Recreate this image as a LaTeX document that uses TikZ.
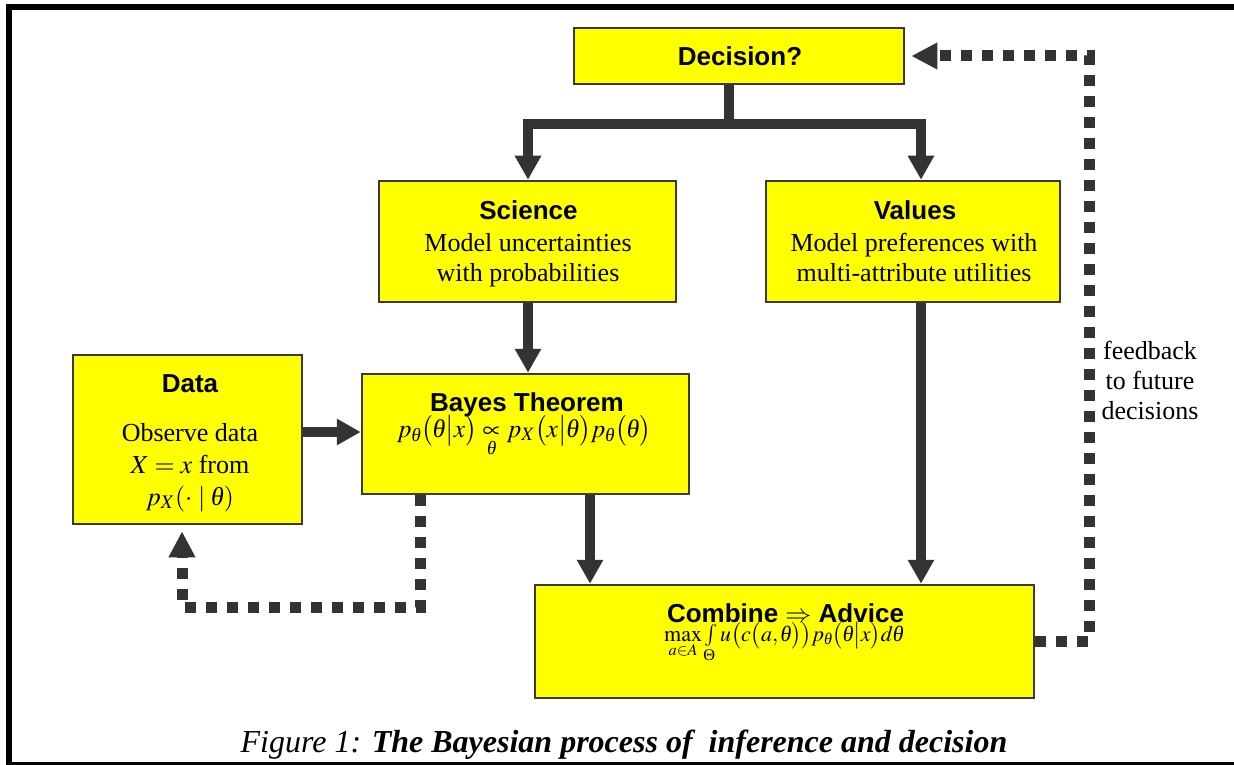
\documentclass[tikz,border=0pt]{standalone}
\usepackage{amsmath}
\usepackage{mathptmx}
\usepackage[no-math]{fontspec}
\setmainfont{Liberation Serif}
\newfontfamily\arial{Liberation Sans}
\usetikzlibrary{arrows.meta}
\newcommand{\thx}{\text{\itshape θ}}
\newcommand{\bigTh}{\text{\upshape Θ}}
\definecolor{ink}{HTML}{333333}
\definecolor{boxline}{HTML}{3A3A3A}
\definecolor{boxfill}{HTML}{FFFF00}
\tikzset{
  box/.style={draw=boxline, line width=2.5pt, fill=boxfill, inner sep=0pt, rectangle},
  ttl/.style={font=\arial\bfseries\fontsize{26}{30}\selectfont, anchor=base, inner sep=0pt},
  body/.style={font=\fontsize{26}{30}\selectfont, anchor=base, inner sep=0pt},
  flow/.style={draw=ink, line width=10pt, -{Triangle[length=24pt,width=25pt]}},
  plain/.style={draw=ink, line width=10pt},
  dotflow/.style={draw=ink, line width=11pt, dash pattern=on 11pt off 10pt, -{Triangle[length=26pt,width=25pt]}},
}
\begin{document}
\begin{tikzpicture}[x=1pt,y=-1pt]
\useasboundingbox (0,0) rectangle (1234,765);
% frame
\draw[line width=6pt] (9,765) -- (9,7) -- (1234,7);
\draw[line width=3.5pt] (6,763.5) -- (1234,763.5);
% boxes
\node[box, minimum width=330pt, minimum height=56pt] (dec) at (739,56) {};
\node[box, minimum width=297pt, minimum height=121pt] (sci) at (527.5,241.5) {};
\node[box, minimum width=294pt, minimum height=121pt] (val) at (913,241.5) {};
\node[box, minimum width=229pt, minimum height=169pt] (data) at (187.5,439.5) {};
\node[box, minimum width=327pt, minimum height=120pt] (bayes) at (525.5,434) {};
\node[box, minimum width=499pt, minimum height=113pt] (comb) at (784.5,641.5) {};
% texts
\node[ttl] (tdec) at (740,66) {Decision?};
\node[ttl] (tsci) at (528.5,219) {Science};
\node[body] (bsci1) at (528,251) {Model uncertainties};
\node[body] (bsci2) at (528,281) {with probabilities};
\node[ttl] (tval) at (915,219) {Values};
\node[body] (bval1) at (914,251) {Model preferences with};
\node[body] (bval2) at (914,281) {multi-attribute utilities};
\node[ttl] (tdata) at (190,392) {Data};
\node[body] (bdata1) at (190,441) {Observe data};
\node[body] (bdata2) at (190,473) {$X = x$ from};
\node[body] (bdata3) at (190,505) {$p_X(\cdot\mid\thx)$};
\node[ttl] (tbay) at (527,411) {Bayes Theorem};
\node[body, font=\fontsize{25.5}{29}\selectfont] (fbay) at (524,437) {$p_{\thx}\bigl(\thx\big|x\bigr)\mathrel{\mathop{\propto}\limits_{\thx}} p_X\bigl(x\big|\thx\bigr)p_{\thx}\bigl(\thx\bigr)$};
\node[ttl] (tcomb) at (785.5,622) {Combine $\Rightarrow$ Advice};
\node[body, anchor=base west, font=\fontsize{22}{26}\selectfont] (fcomb) at (664,641) {$\max\limits_{a\in A}\int\limits_{\bigTh} u\bigl(c\bigl(a,\thx\bigr)\bigr)p_{\thx}\bigl(\thx\big|x\bigr)d\thx$};
\node[body, align=center] (fbtxt) at (1150,419) {feedback\\to future\\decisions};
\node[anchor=base, inner sep=0pt, font=\fontsize{32}{36}\selectfont] (cap) at (624,752) {\itshape Figure 1: \bfseries The Bayesian process of~ inference and decision};
% connectors
\coordinate (split) at (729,124);
\coordinate (sL) at (528,0);
\coordinate (vR) at (921,0);
\coordinate (bC) at (590,0);
\coordinate (dY) at (0,432);
\draw[plain] (dec.south -| split) -- (split);
\draw[draw=ink, line width=10pt, {Triangle[length=24pt,width=25pt]}-{Triangle[length=24pt,width=25pt]}] (sci.north -| sL) |- (split) -| (val.north -| vR);
\draw[flow] (sci.south -| sL) -- (bayes.north -| sL);
\draw[flow] (val.south -| vR) -- (comb.north -| vR);
\draw[flow] (bayes.south -| bC) -- (comb.north -| bC);
\draw[flow] (data.east |- dY) -- (bayes.west |- dY);
% dotted loops
\coordinate (fbc) at (1089,300);
\draw[dotflow, shorten >=6pt] (comb.east) -| (fbc) |- (dec.east);
\coordinate (lp1) at (420,607);
\coordinate (lp2) at (182,607);
\draw[dotflow, shorten >=6pt] (bayes.south -| lp1) -- (lp1) -- (lp2) -- (data.south -| lp2);
\end{tikzpicture}
\end{document}
